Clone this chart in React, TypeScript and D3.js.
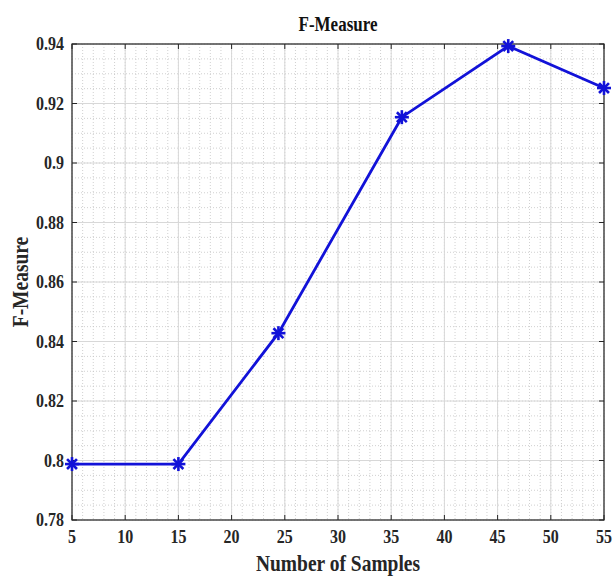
import React from "react";
import * as d3 from "d3";

const samples = [5, 15, 24.4, 36, 46, 55];
const fMeasure = [0.7988, 0.7988, 0.8428, 0.9154, 0.9393, 0.9252];
const xTicks = [5, 10, 15, 20, 25, 30, 35, 40, 45, 50, 55];
const yTicks = [0.78, 0.8, 0.82, 0.84, 0.86, 0.88, 0.9, 0.92, 0.94];
const yTickLabels = ["0.78", "0.8", "0.82", "0.84", "0.86", "0.88", "0.9", "0.92", "0.94"];
const xMinor = d3.range(5, 55.001, 1);
const yMinor = d3.range(0, 33).map((i) => 0.78 + i * 0.005);

const W = 614;
const H = 576;
const left = 72, right = 604, top = 44, bottom = 520;
const font = "Liberation Serif, Times New Roman, serif";
const SY = 1.18;

function T(props: { x: number; y: number; anchor: string; size: number; rotate?: boolean; children: any; fill?: string }) {
  const { x, y, anchor, size, rotate, children, fill } = props;
  const tr = rotate
    ? `translate(${x},${y}) rotate(-90) scale(1,${SY})`
    : `translate(${x},${y}) scale(1,${SY})`;
  return (
    <text transform={tr} textAnchor={anchor} fontFamily={font} fontWeight="bold"
      fontSize={size} fill={fill || "#262626"}>{children}</text>
  );
}

export default function App() {
  const x = d3.scaleLinear().domain([5, 55]).range([left, right]);
  const y = d3.scaleLinear().domain([0.78, 0.94]).range([bottom, top]);
  const line = d3
    .line<number>()
    .x((_, i) => x(samples[i]))
    .y((d) => y(d));
  const star = (cx: number, cy: number, k: number) => {
    const r = 7;
    const segs = [0, 45, 90, 135].map((a) => {
      const rad = (a * Math.PI) / 180;
      return (
        <line
          key={a}
          x1={cx - r * Math.cos(rad)}
          y1={cy - r * Math.sin(rad)}
          x2={cx + r * Math.cos(rad)}
          y2={cy + r * Math.sin(rad)}
          stroke="#1212d8"
          strokeWidth={2.6}
        />
      );
    });
    return <g key={k}>{segs}</g>;
  };
  return (
    <svg
      width={W}
      height={H}
      style={{ position: "absolute", left: 0, top: 0, background: "#fff" }}
    >
      <rect x={0} y={0} width={W} height={H} fill="#fff" />
      {xMinor.map((v) => (
        <line key={"xm" + v} x1={x(v)} x2={x(v)} y1={top} y2={bottom}
          stroke="#c4c4c4" strokeWidth={0.8} strokeDasharray="1,2" />
      ))}
      {yMinor.map((v, i) => (
        <line key={"ym" + i} x1={left} x2={right} y1={y(v)} y2={y(v)}
          stroke="#c4c4c4" strokeWidth={0.8} strokeDasharray="1,2" />
      ))}
      {xTicks.map((v) => (
        <line key={"xg" + v} x1={x(v)} x2={x(v)} y1={top} y2={bottom}
          stroke="#d8d8d8" strokeWidth={1} />
      ))}
      {yTicks.map((v) => (
        <line key={"yg" + v} x1={left} x2={right} y1={y(v)} y2={y(v)}
          stroke="#d8d8d8" strokeWidth={1} />
      ))}
      {xTicks.map((v) => (
        <g key={"xt" + v}>
          <line x1={x(v)} x2={x(v)} y1={bottom} y2={bottom - 5} stroke="#262626" />
          <line x1={x(v)} x2={x(v)} y1={top} y2={top + 5} stroke="#262626" />
          <T x={x(v)} y={bottom + 23} anchor="middle" size={16}>{v}</T>
        </g>
      ))}
      {yTicks.map((v, i) => (
        <g key={"yt" + v}>
          <line x1={left} x2={left + 5} y1={y(v)} y2={y(v)} stroke="#262626" />
          <line x1={right} x2={right - 5} y1={y(v)} y2={y(v)} stroke="#262626" />
          <T x={left - 8} y={y(v) + 6} anchor="end" size={16}>{yTickLabels[i]}</T>
        </g>
      ))}
      <rect x={left} y={top} width={right - left} height={bottom - top}
        fill="none" stroke="#262626" strokeWidth={1.2} />
      <path d={line(fMeasure) || ""} fill="none" stroke="#1212d8" strokeWidth={2.8} />
      {fMeasure.map((v, i) => star(x(samples[i]), y(v), i))}
      <T x={(left + right) / 2} y={31} anchor="middle" size={17} fill="#111">F-Measure</T>
      <T x={(left + right) / 2} y={571} anchor="middle" size={19.5}>Number of Samples</T>
      <T x={28} y={(top + bottom) / 2} anchor="middle" size={19.5} rotate>F-Measure</T>
    </svg>
  );
}
